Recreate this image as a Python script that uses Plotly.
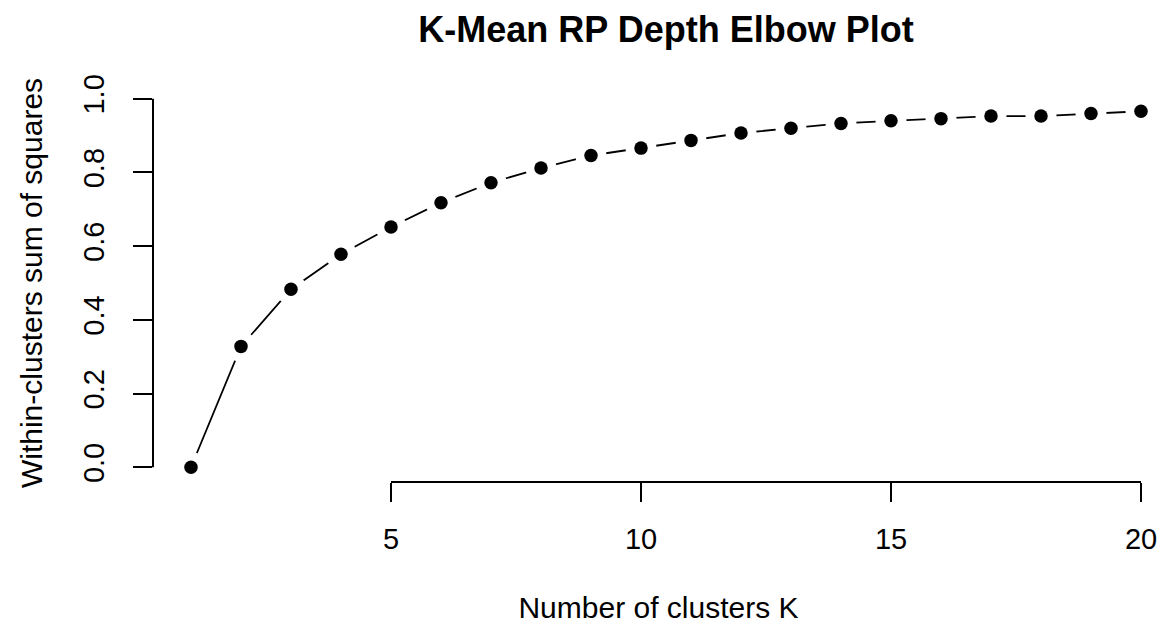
import plotly.graph_objects as go

# Elbow curve: explained share of variance for K = 1..20
k_values = list(range(1, 21))
wss_ratio = [0.000, 0.328, 0.483, 0.578, 0.652, 0.718, 0.772, 0.812, 0.846, 0.866,
             0.887, 0.907, 0.920, 0.933, 0.940, 0.946, 0.953, 0.953, 0.960, 0.966]

x_ticks = [5, 10, 15, 20]
y_ticks = [0.0, 0.2, 0.4, 0.6, 0.8, 1.0]
y_tick_text = ["0.0", "0.2", "0.4", "0.6", "0.8", "1.0"]

FONT = "Liberation Sans, Arial, sans-serif"

fig = go.Figure()

# connecting segments
fig.add_trace(go.Scatter(x=k_values, y=wss_ratio, mode="lines",
                         line=dict(color="black", width=1.8),
                         hoverinfo="skip", showlegend=False, cliponaxis=False))
# white halo leaves a gap in the line around each point (type="b" look)
fig.add_trace(go.Scatter(x=k_values, y=wss_ratio, mode="markers",
                         marker=dict(color="white", size=31, line=dict(width=0)),
                         hoverinfo="skip", showlegend=False, cliponaxis=False))
# points
fig.add_trace(go.Scatter(x=k_values, y=wss_ratio, mode="markers",
                         marker=dict(color="black", size=13.5, line=dict(width=0)),
                         showlegend=False, cliponaxis=False))

# axis lines spanning only the first to last tick
fig.add_shape(type="line", xref="x", yref="paper", x0=x_ticks[0], x1=x_ticks[-1],
              y0=0, y1=0, line=dict(color="black", width=2))
fig.add_shape(type="line", xref="paper", yref="y", x0=0, x1=0,
              y0=y_ticks[0], y1=y_ticks[-1], line=dict(color="black", width=2))

fig.update_layout(
    width=1164, height=627,
    margin=dict(l=153, r=0, t=84, b=145, pad=0),
    paper_bgcolor="white", plot_bgcolor="white",
    font=dict(family=FONT, color="black", size=29),
    title=dict(text="<b>K-Mean RP Depth Elbow Plot</b>",
               font=dict(family=FONT, size=36, color="black"),
               xref="paper", x=0.5074, xanchor="center",
               yref="container", y=1 - 29 / 627, yanchor="middle"),
    xaxis=dict(range=[0.24, 20.46], showgrid=False, zeroline=False, showline=False,
               tickmode="array", tickvals=x_ticks, ticks="outside", ticklen=19,
               tickwidth=2, tickcolor="black", ticklabelstandoff=12,
               tickfont=dict(size=29),
               title=dict(text="Number of clusters K", font=dict(size=30), standoff=43)),
    yaxis=dict(range=[-0.04, 1.04], showgrid=False, zeroline=False, showline=False,
               tickmode="array", tickvals=y_ticks, ticktext=y_tick_text,
               ticks="outside", ticklen=19, tickwidth=2, tickcolor="black",
               ticklabelstandoff=17,
               tickangle=-90, tickfont=dict(size=29),
               title=dict(text="Within-clusters sum of squares", font=dict(size=30),
                          standoff=26)),
)

fig.write_html("out.html")
